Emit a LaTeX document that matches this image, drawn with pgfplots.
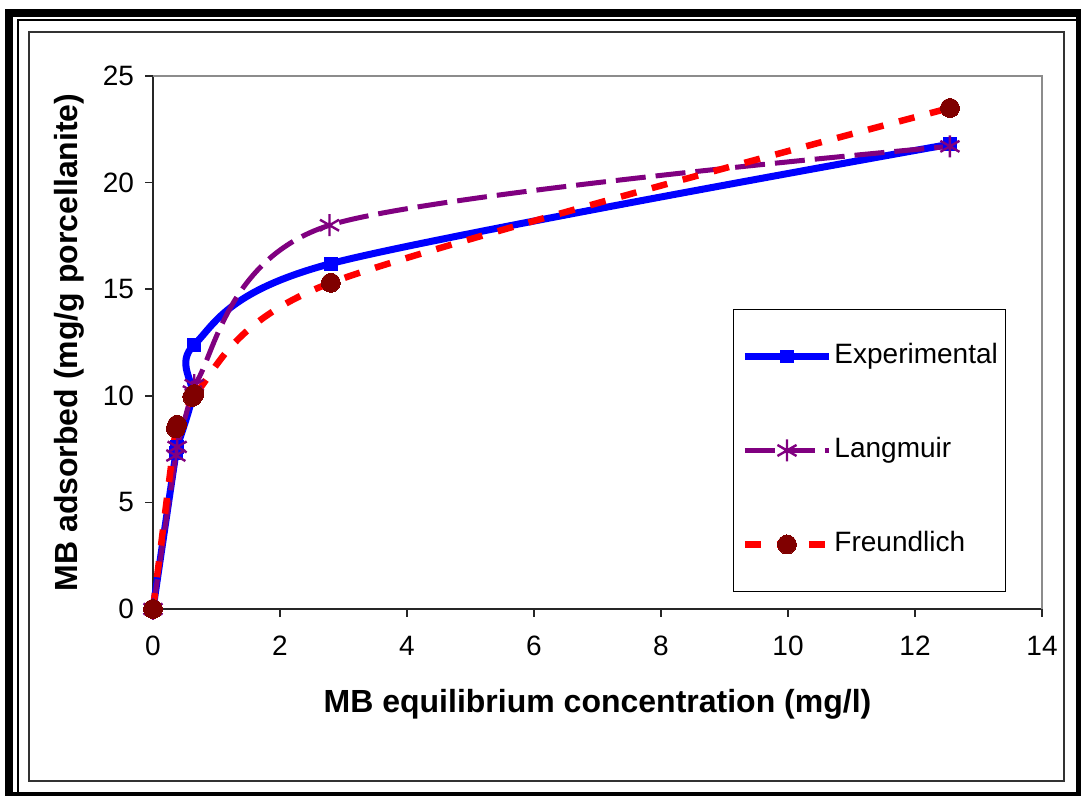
\documentclass[border=0pt]{standalone}
\usepackage{pgfplots}
\pgfplotsset{compat=1.18}
\usepackage{fontspec}
\setmainfont{Liberation Sans}
\definecolor{lpurple}{RGB}{128,0,128}
\definecolor{dred}{RGB}{128,0,0}

\begin{document}
\begin{tikzpicture}[x=0.5pt,y=0.5pt]
\useasboundingbox (0,0) rectangle (1081,796);
% double frame round the chart
\fill[black] (5,0) rectangle (1081,787);
\fill[white] (13,4) rectangle (1076,779);
\draw[line width=1pt] (17.5,4) -- (17.5,776) -- (1076,776);
\draw[black!80, line width=1pt] (29,15) rectangle (1064,764);
\begin{axis}[
    at={(76.5pt,93.5pt)}, anchor=south west,
    width=444.5pt, height=266.5pt, scale only axis,
    xmin=0, xmax=14, ymin=0, ymax=25,
    xtick={0,2,...,14}, ytick={0,5,...,25},
    axis lines*=left,
    axis line style={-, line width=1pt, black!85},
    tick align=outside, major tick length=4pt,
    tick style={black!85, line width=0.75pt},
    ticklabel style={font=\fontsize{14}{16}\selectfont},
    /pgf/number format/assume math mode=true,
    xticklabel style={yshift=-6pt},
    yticklabel style={xshift=-2pt},
    label style={font=\bfseries\fontsize{16}{19}\selectfont},
    xlabel={MB equilibrium concentration (mg/l)},
    ylabel={MB adsorbed (mg/g porcellanite)},
    xlabel style={at={(axis description cs:0.5,-0.195)}, anchor=base},
    ylabel style={at={(axis description cs:-0.0844,0.5)}, anchor=base},
    clip=false,
    legend image code/.code={\draw[mark repeat=2, mark phase=2, #1]
        plot coordinates {(0pt,0pt) (21pt,0pt) (42pt,0pt)};},
    legend cell align=left,
    legend style={at={(0.6524,0.5629)}, anchor=north west,
        draw=black, line width=0.5pt,
        font=\fontsize{14}{16}\selectfont,
        inner xsep=4pt, inner ysep=17pt, row sep=34pt,
        nodes={inner xsep=0pt, inner ysep=0pt, text depth=3pt, text height=10pt},
        /tikz/every odd column/.append style={column sep=1pt}},
    after end axis/.code={
        \draw[black!45, line width=1pt] (rel axis cs:0,1) -- (rel axis cs:1,1) -- (rel axis cs:1,0);
    },
]
% Experimental
\addplot[blue, line width=3.5pt, smooth, tension=0.5,
    mark=square*, mark size=3.2pt, mark options={line width=0pt}]
    coordinates {(0,0) (0.36,7.3) (0.38,7.6) (0.62,10.0) (0.65,12.4) (2.8,16.2) (12.55,21.8)};
% Langmuir
\addplot[lpurple, line width=2.5pt, smooth, tension=0.5, dash pattern=on 15pt off 5pt,
    mark=asterisk, mark size=5.5pt, mark options={solid, line width=1.2pt}]
    coordinates {(0,0) (0.36,7.2) (0.38,7.6) (0.62,10.2) (0.65,10.5) (2.78,18.0) (12.55,21.7)};
% Freundlich
\addplot[red, line width=3.25pt, smooth, tension=0.5, dash pattern=on 8pt off 8pt,
    mark=*, mark size=4.75pt, mark options={solid, fill=dred, draw=dred, line width=0pt}]
    coordinates {(0,0) (0.36,8.48) (0.38,8.64) (0.62,9.95) (0.65,10.08) (2.8,15.3) (12.55,23.5)};
\legend{Experimental, Langmuir, Freundlich}
\end{axis}
\end{tikzpicture}
\end{document}
